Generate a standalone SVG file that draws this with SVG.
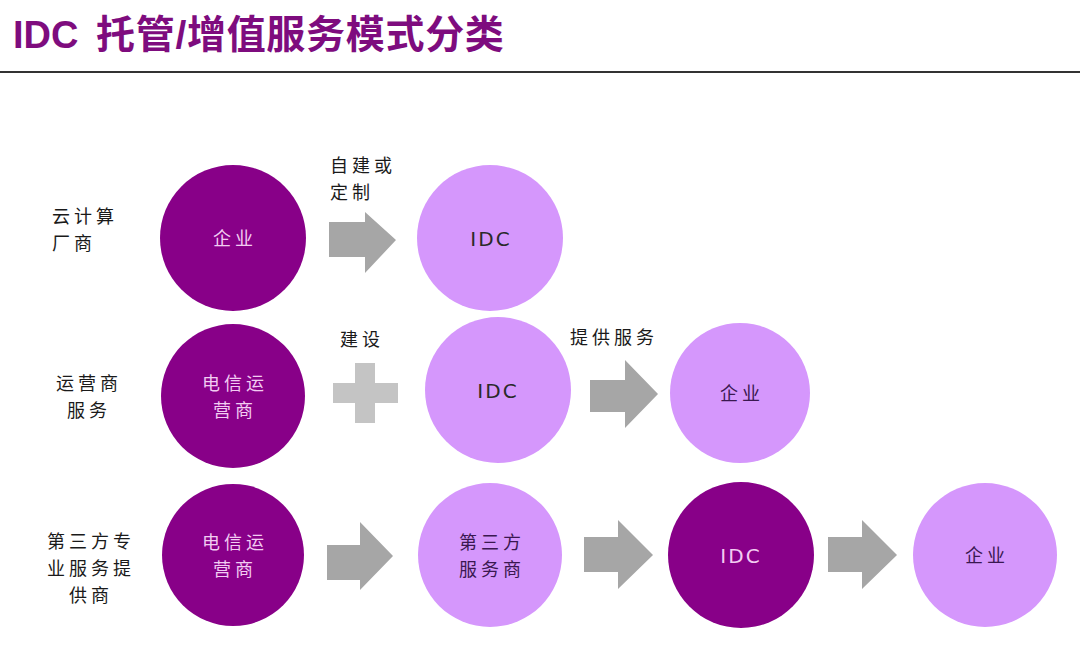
<svg xmlns="http://www.w3.org/2000/svg" width="1080" height="652" viewBox="0 0 1080 652">
<defs>
<style>
.title{font-family:"Liberation Sans","Noto Sans CJK SC",sans-serif;font-weight:bold;font-size:38px;fill:#7E0C7E}
.lbl{font-family:"Noto Sans CJK SC",sans-serif;font-size:18px;fill:#1a1a1a;letter-spacing:4px}
.dk{fill:#880088}
.lt{fill:#D597FC}
.tdk{font-family:"Noto Sans CJK SC",sans-serif;font-size:18px;fill:#F2CCF2;letter-spacing:4px;text-anchor:middle}
.tlt{font-family:"Noto Sans CJK SC",sans-serif;font-size:18px;fill:#3A1850;letter-spacing:4px;text-anchor:middle}
.idcd{font-family:"DejaVu Sans","Liberation Sans",sans-serif;font-size:20px;fill:#F2CCF2;letter-spacing:2px;text-anchor:middle}
.idcl{font-family:"DejaVu Sans","Liberation Sans",sans-serif;font-size:20px;fill:#2A2A2A;letter-spacing:2px;text-anchor:middle}
.arr{fill:#A6A6A6}
.plus{fill:#C4C4C4}
</style>
</defs>
<rect width="1080" height="652" fill="#ffffff"/>
<g id="title">
<text class="title" x="13" y="48">IDC <tspan x="96" style="font-size:39px;letter-spacing:0.7px">托管/增值服务模式分类</tspan></text>
<rect x="0" y="71" width="1080" height="2" fill="#333333"/>
</g>
<g id="row-labels">
<text class="lbl" x="52" y="223">云计算</text>
<text class="lbl" x="52" y="250">厂商</text>
<text class="lbl" x="89" y="390" text-anchor="middle">运营商</text>
<text class="lbl" x="89" y="417" text-anchor="middle">服务</text>
<text class="lbl" x="91" y="548" text-anchor="middle">第三方专</text>
<text class="lbl" x="91" y="575" text-anchor="middle">业服务提</text>
<text class="lbl" x="91" y="602" text-anchor="middle">供商</text>
</g>
<g id="n1a"><circle class="dk" cx="233" cy="238" r="73"/><text class="tdk" x="235" y="245">企业</text></g>
<g id="n1b"><circle class="lt" cx="490" cy="238" r="73"/><text class="idcl" x="491" y="246">IDC</text></g>
<g id="n2a"><circle class="dk" cx="233" cy="396" r="72"/><text class="tdk" x="235" y="390">电信运</text><text class="tdk" x="235" y="417">营商</text></g>
<g id="n2b"><circle class="lt" cx="498" cy="390" r="73"/><text class="idcl" x="498" y="398">IDC</text></g>
<g id="n2c"><circle class="lt" cx="740" cy="393" r="70"/><text class="tlt" x="742" y="400">企业</text></g>
<g id="n3a"><circle class="dk" cx="233" cy="555" r="71"/><text class="tdk" x="235" y="549">电信运</text><text class="tdk" x="235" y="576">营商</text></g>
<g id="n3b"><circle class="lt" cx="490" cy="555" r="72"/><text class="tlt" x="492" y="549">第三方</text><text class="tlt" x="492" y="576">服务商</text></g>
<g id="n3c"><circle class="dk" cx="741" cy="555" r="73"/><text class="idcd" x="741" y="563">IDC</text></g>
<g id="n3d"><circle class="lt" cx="985" cy="555" r="72"/><text class="tlt" x="987" y="562">企业</text></g>
<g id="connectors">
<polygon class="arr" points="329,222 365,222 365,212 396,240 365,273 365,257 329,257"/>
<text class="lbl" x="330" y="172">自建或</text>
<text class="lbl" x="330" y="199">定制</text>
<rect class="plus" x="333" y="383" width="65" height="20"/>
<rect class="plus" x="355" y="363" width="20" height="60"/>
<text class="lbl" x="340" y="346">建设</text>
<polygon class="arr" points="590,380 625,380 625,360 658,394 625,428 625,412 590,412"/>
<text class="lbl" x="570" y="344">提供服务</text>
<polygon class="arr" points="327,545 360,545 360,522 393,556 360,590 360,580 327,580"/>
<polygon class="arr" points="584,537 618,537 618,520 653,555 618,589 618,572 584,572"/>
<polygon class="arr" points="828,537 862,537 862,520 897,555 862,589 862,572 828,572"/>
</g>
</svg>
